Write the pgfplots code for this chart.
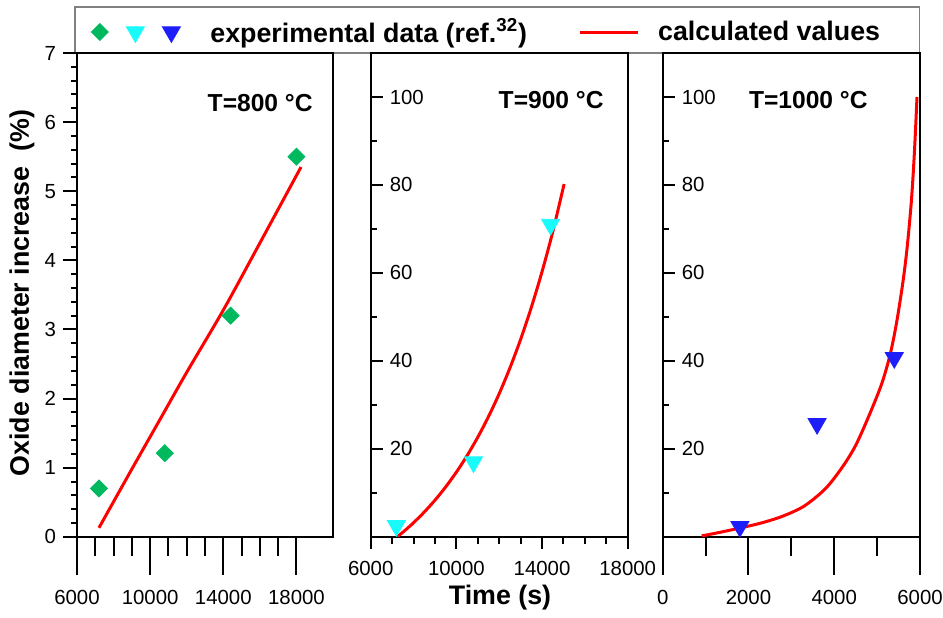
\documentclass[border=0pt]{standalone}
\usepackage{pgfplots}
\pgfplotsset{compat=1.18}
\usepackage{fontspec}
\setmainfont{Liberation Sans}
\definecolor{mgreen}{RGB}{0,185,95}
\definecolor{mcyan}{RGB}{25,250,250}
\definecolor{mblue}{RGB}{30,30,250}
\definecolor{mred}{RGB}{255,0,0}
\pgfplotsset{
  base/.style={scale only axis, width=128pt, height=241.9pt, anchor=south west,
    /pgf/number format/assume math mode=true,
    /pgf/number format/fixed, /pgf/number format/1000 sep={},
    scaled ticks=false,
    tick label style={font=\fontsize{10.2}{12}\selectfont},
    axis line style={line width=1.2pt},
    tick style={black, line width=1pt},
  },
  xonly/.style={base, hide y axis, axis x line*=bottom, tick align=outside,
    xticklabel style={yshift=-4pt}},
  dia/.style={mgreen, only marks, mark=square*, mark size=3.0pt,
    mark options={rotate=45, fill=mgreen, draw=mgreen, line width=0.4pt}},
  tri/.style={#1, only marks, mark=triangle*, mark size=5.2pt,
    mark options={rotate=180, fill=#1, draw=#1, line width=0.4pt}},
}
\begin{document}
\begin{tikzpicture}
\useasboundingbox (0,0) rectangle (471.5pt,-308.5pt);
\draw[black!50, line width=0.7pt] (37.5pt,-26.5pt) rectangle (459.6pt,-3.5pt);

% ---------- Panel 1 ----------
\begin{axis}[xonly, at={(38.5pt,-268.4pt)}, xmin=6000, xmax=20000, ymin=0, ymax=7,
  xtick={6000,10000,14000,18000}, minor x tick num=3,
  major tick length=19pt, minor tick length=9.5pt]
\end{axis}
\begin{axis}[base, at={(38.5pt,-268.4pt)}, xmin=6000, xmax=20000, ymin=0, ymax=7,
  xtick=\empty, ytick={0,1,...,7}, minor y tick num=4, ytick pos=left,
  tick align=outside, major tick length=7pt, minor tick length=3pt,
  legend columns=4,
  legend style={draw=none, fill=none, inner sep=0pt,
    at={(axis description cs:0.0547,1.0434)}, anchor=west,
    font=\fontsize{13.4}{16}\selectfont\bfseries}]
\addlegendimage{dia}
\addlegendentry{\rule{5pt}{0pt}}
\addlegendimage{tri=mcyan}
\addlegendentry{\rule{5pt}{0pt}}
\addlegendimage{tri=mblue}
\addlegendentry{\rule{13pt}{0pt}experimental data (ref.\textsuperscript{32})\rule{23.5pt}{0pt}}
\addlegendimage{mred, line width=1.5pt, legend image code/.code={\draw[mred, line width=1.5pt] (0pt,0pt) -- (29pt,0pt); \path (36.5pt,0pt);}}
\addlegendentry{calculated values}
\addplot[forget plot, dia]
  coordinates {(7200,0.70) (10800,1.21) (14400,3.20) (18000,5.50)};
\addplot[forget plot, mred, line width=1.5pt, smooth]
  coordinates {(7200,0.13) (9000,0.98) (10500,1.68) (12000,2.38) (14000,3.28) (16000,4.25) (18250,5.35)};
\end{axis}

% ---------- Panel 2 ----------
\begin{axis}[xonly, at={(185.35pt,-268.4pt)}, width=128.5pt, xmin=6000, xmax=18000, ymin=0, ymax=110,
  xtick={6000,10000,14000,18000}, minor x tick num=3,
  xticklabel style={yshift=1.2pt},
  major tick length=6pt, minor tick length=3.4pt]
\end{axis}
\begin{axis}[base, at={(185.35pt,-268.4pt)}, width=128.5pt, xmin=6000, xmax=18000, ymin=0, ymax=110,
  xtick=\empty, ytick={20,40,...,100}, minor ytick={10,30,...,90}, ytick pos=left,
  tick align=inside, major tick length=6.3pt, minor tick length=3.3pt,
  yticklabel style={anchor=west, xshift=6pt}]
\addplot[tri=mcyan]
  coordinates {(7200,2.5) (10800,17.0) (14400,71.0)};
\addplot[mred, line width=1.5pt, smooth]
  coordinates {(7240,0) (7600,1.45) (8000,3.20) (8500,5.62) (9000,8.32) (9500,11.34) (10000,14.70)
  (10500,18.46) (11000,22.65) (11500,27.33) (12000,32.55) (12500,38.39) (13000,44.89)
  (13500,52.17) (14000,60.28) (14500,69.33) (15030,80.2)};
\end{axis}

% ---------- Panel 3 ----------
\begin{axis}[xonly, at={(331.35pt,-268.4pt)}, width=128.65pt, xmin=0, xmax=6000, ymin=0, ymax=110,
  xtick={0,2000,4000,6000}, minor x tick num=1,
  major tick length=19pt, minor tick length=9.5pt]
\end{axis}
\begin{axis}[base, at={(331.35pt,-268.4pt)}, width=128.65pt, xmin=0, xmax=6000, ymin=0, ymax=110,
  xtick=\empty, ytick={20,40,...,100}, minor ytick={10,30,...,90}, ytick pos=left,
  tick align=inside, major tick length=6.3pt, minor tick length=3.3pt,
  yticklabel style={anchor=west, xshift=6pt}]
\addplot[tri=mblue]
  coordinates {(1800,2.3) (3600,25.7) (5400,40.7)};
\addplot[mred, line width=1.5pt, smooth]
  coordinates {(909,0.2) (1300,0.95) (1800,2.0) (2300,3.15) (2800,4.7) (3300,7.0) (3800,11.0)
  (4200,16.0) (4500,20.8) (4800,27.3) (5100,34.6) (5300,41.3) (5450,48.5) (5600,57.8)
  (5700,65.8) (5800,76.5) (5870,87.5) (5930,100.0)};
\end{axis}

% ---------- texts ----------
\node[anchor=east, inner sep=0pt, font=\fontsize{12.3}{14}\selectfont\bfseries] at (156.5pt,-51.5pt) {T=800 °C};
\node[anchor=east, inner sep=0pt, font=\fontsize{12.3}{14}\selectfont\bfseries] at (302pt,-50pt) {T=900 °C};
\node[anchor=east, inner sep=0pt, font=\fontsize{12.3}{14}\selectfont\bfseries] at (434pt,-50pt) {T=1000 °C};
\node[inner sep=0pt, font=\fontsize{13.4}{16}\selectfont\bfseries] at (250pt,-299pt) {Time (s)};
\node[inner sep=0pt, rotate=90, font=\fontsize{13.4}{16}\selectfont\bfseries] at (11pt,-146.5pt) {Oxide diameter increase\ \ (\%)};
\end{tikzpicture}
\end{document}
